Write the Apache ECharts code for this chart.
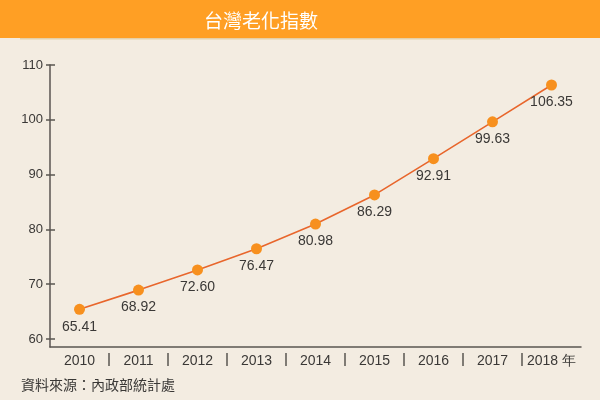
<!DOCTYPE html>
<html>
<head>
<meta charset="utf-8">
<script src="https://cdn.jsdelivr.net/npm/echarts@6/dist/echarts.min.js"></script>
<style>html,body{margin:0;padding:0;background:#F3ECE1;}#c{width:600px;height:400px;}</style>
</head>
<body>
<div id="c"></div>
<script>
const categories = ['2010', '2011', '2012', '2013', '2014', '2015', '2016', '2017', '2018'];
const agingIndex = [65.41, 68.92, 72.60, 76.47, 80.98, 86.29, 92.91, 99.63, 106.35];
const yTicks = [60, 70, 80, 90, 100, 110];
const titleText = '台灣老化指數';
const sourceText = '資料來源：內政部統計處';
const yearUnit = ' 年';

const latin = '"Liberation Sans", Arial, Helvetica, sans-serif';
const cjk = '"Noto Sans CJK TC", "Noto Sans CJK SC", sans-serif';
const axisColor = '#5a5550';
const textColor = '#3a3836';
const separators = categories.slice(1).map((_, i) => i + 0.5);

const chart = echarts.init(document.getElementById('c'), null, {renderer: 'canvas'});
chart.setOption({
  backgroundColor: '#F3ECE1',
  animation: false,
  graphic: [
    {type: 'rect', z: 0, shape: {x: 0, y: 0, width: 600, height: 38}, style: {fill: '#FF9F24'}},
    {type: 'rect', z: 0, shape: {x: 20, y: 38, width: 480, height: 1.5}, style: {fill: '#E6CFA6'}},
    {type: 'text', z: 10, left: 21, top: 378, style: {text: sourceText, fill: textColor, font: '14px ' + cjk}}
  ],
  title: {
    text: titleText,
    left: 199,
    top: 6,
    textStyle: {color: '#ffffff', fontSize: 19, fontWeight: 'normal', fontFamily: cjk}
  },
  grid: {left: 50, right: 19, top: 65, bottom: 53, containLabel: false},
  xAxis: [
    {
      type: 'category',
      data: categories,
      boundaryGap: true,
      axisLine: {onZero: false, lineStyle: {color: axisColor, width: 1.5}},
      axisTick: {show: false},
      axisLabel: {
        interval: 0,
        color: textColor, fontSize: 14, fontFamily: latin, margin: 7,
        formatter: (v, i) => i === categories.length - 1 ? v + yearUnit : v
      }
    },
    {
      type: 'value',
      min: -0.5,
      max: categories.length - 0.5,
      position: 'bottom',
      offset: 6,
      axisLine: {show: false, onZero: false},
      axisLabel: {show: false},
      splitLine: {show: false},
      axisTick: {show: true, customValues: separators, length: 13, lineStyle: {color: axisColor, width: 1.5}}
    }
  ],
  yAxis: [
    {
      type: 'value',
      min: 58.54,
      max: 110,
      axisLine: {show: true, onZero: false, lineStyle: {color: axisColor, width: 1.5}},
      axisTick: {show: true, customValues: yTicks, length: 4, lineStyle: {color: axisColor, width: 1.5}},
      axisLabel: {customValues: yTicks, color: textColor, fontSize: 13, fontFamily: latin, margin: 7},
      splitLine: {show: false}
    },
    {
      type: 'value',
      min: 58.54,
      max: 110,
      position: 'left',
      axisLine: {show: false, onZero: false},
      axisTick: {show: true, inside: true, customValues: yTicks, length: 5, lineStyle: {color: axisColor, width: 1.5}},
      axisLabel: {show: false},
      splitLine: {show: false}
    }
  ],
  series: [{
    type: 'line',
    data: agingIndex,
    xAxisIndex: 0,
    yAxisIndex: 0,
    symbol: 'circle',
    symbolSize: 11,
    itemStyle: {color: '#F7901E'},
    lineStyle: {color: '#E8662C', width: 1.6},
    label: {
      show: true,
      position: 'bottom',
      distance: 5,
      color: textColor,
      fontSize: 14,
      fontFamily: latin,
      formatter: p => p.value.toFixed(2)
    }
  }]
});
</script>
</body>
</html>
